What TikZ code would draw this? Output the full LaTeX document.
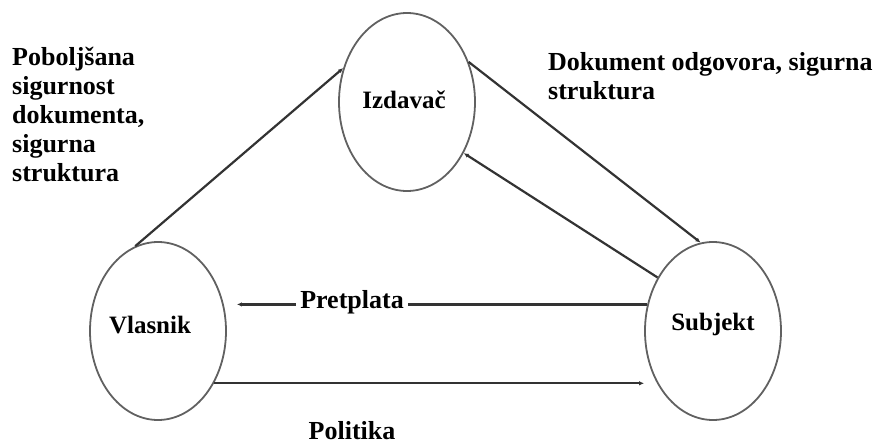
\documentclass[tikz,border=0pt]{standalone}
\usepackage{fontspec}
\setmainfont{Liberation Serif}
\usetikzlibrary{shapes.geometric,arrows.meta}

\begin{document}
\begin{tikzpicture}[x=1pt,y=-1pt]
	\colorlet{ellipse edge}{black!62}
	\colorlet{flow line}{black!80}

	\tikzset{
		party/.style={ellipse, draw=ellipse edge, line width=1.8pt, inner sep=0pt,
			minimum width=136pt, minimum height=178pt},
		flow/.style={draw=flow line, line width=2.2pt, -{Latex[length=5pt,width=4.5pt]}},
		txt/.style={inner sep=0pt, align=left, font=\fontsize{26}{29}\selectfont\bfseries},
		partyname/.style={txt, anchor=base, font=\fontsize{25}{29}\selectfont\bfseries},
	}

	\useasboundingbox (0,0) rectangle (879,445);

	\node[party] (izdavac) at (407,102) {};
	\node[party] (vlasnik) at (158,331) {};
	\node[party] (subjekt) at (713,331) {};
	\node[partyname] (izdavac-t) at (404,108) {Izdavač};
	\node[partyname] (vlasnik-t) at (150,333) {Vlasnik};
	\node[partyname] (subjekt-t) at (713,330) {Subjekt};

	% veze
	\draw[flow] (vlasnik.105) -- (izdavac.152);
	\draw[flow] (izdavac.33) -- (subjekt.98);
	\draw[flow] (subjekt.136) -- (izdavac.318);
	\draw[flow, shorten >=10pt] (subjekt.158) -- (subjekt.158 -| vlasnik.east);
	\draw[flow] (vlasnik.-43) -- (vlasnik.-43 -| subjekt.west);

	% oznake
	\node[txt, fill=white, inner xsep=4pt, anchor=base] (pretplata) at (352,308) {Pretplata};
	\node[txt, anchor=base] (politika) at (352,439) {Politika};
	\node[txt, anchor=north west] (poboljsana) at (12,47)
		{Poboljšana\\sigurnost\\dokumenta,\\sigurna\\struktura};
	\node[txt, anchor=north west] (odgovor) at (548,52)
		{Dokument odgovora, sigurna\\struktura};
\end{tikzpicture}
\end{document}
